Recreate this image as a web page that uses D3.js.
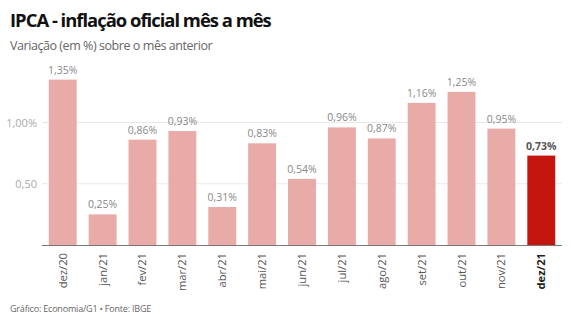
<!DOCTYPE html>
<html>
<head>
<meta charset="utf-8">
<script src="https://cdn.jsdelivr.net/npm/d3@7"></script>
<style>
  html, body { margin: 0; padding: 0; background: #fff; }
  svg { display: block; font-family: "Open Sans", "Noto Sans", sans-serif; }
</style>
</head>
<body>
<svg id="chart" width="571" height="326"></svg>
<script>
// Monthly IPCA variation (%), Dec/2020 to Dec/2021
const months = ["dez/20", "jan/21", "fev/21", "mar/21", "abr/21", "mai/21", "jun/21",
                "jul/21", "ago/21", "set/21", "out/21", "nov/21", "dez/21"];
const values = [1.35, 0.25, 0.86, 0.93, 0.31, 0.83, 0.54, 0.96, 0.87, 1.16, 1.25, 0.95, 0.73];
const yTicks = [0.5, 1.0];
const yTickLabels = ["0,50", "1,00%"];

const svg = d3.select("#chart");
const baseY = 245;
const left = 42, right = 562;

const x = d3.scaleBand().domain(months).range([left, right])
  .paddingInner(0.3).paddingOuter(0.17);
const y = d3.scaleLinear().domain([0, 1]).range([baseY, 122.5]);

const fmt = v => v.toFixed(2).replace(".", ",") + "%";
const lastIdx = months.length - 1;

// Scale a text's font size so it spans the given width
function fitWidth(sel, width) {
  const size = +sel.attr("font-size");
  const w = sel.node().getComputedTextLength();
  sel.attr("font-size", size * width / w);
  return sel;
}

// Title and subtitle
fitWidth(svg.append("text").attr("x", 10).attr("y", 27)
  .attr("font-size", 19).attr("font-weight", 700).attr("fill", "#111")
  .attr("letter-spacing", -1)
  .text("IPCA - inflação oficial mês a mês"), 262);
fitWidth(svg.append("text").attr("x", 10).attr("y", 50)
  .attr("font-size", 13).attr("fill", "#666")
  .attr("letter-spacing", -0.45)
  .text("Variação (em %) sobre o mês anterior"), 203);

// Gridlines and y labels
const yAxis = svg.append("g");
yAxis.selectAll("line").data(yTicks).join("line")
  .attr("x1", left).attr("x2", right)
  .attr("y1", d => y(d)).attr("y2", d => y(d))
  .attr("stroke", "#e8e8e8").attr("stroke-width", 1);
yAxis.selectAll("text").data(yTicks).join("text")
  .attr("x", 37).attr("y", d => y(d) + 4)
  .attr("text-anchor", "end").attr("font-size", 11).attr("fill", "#aaa")
  .text((d, i) => yTickLabels[i]);

// Bars
svg.append("g").selectAll("rect").data(values).join("rect")
  .attr("x", (d, i) => x(months[i]))
  .attr("width", x.bandwidth())
  .attr("y", d => y(d))
  .attr("height", d => baseY - y(d))
  .attr("fill", (d, i) => i === lastIdx ? "#c4160f" : "#e8aba8");

// Value labels
svg.append("g").selectAll("text").data(values).join("text")
  .attr("x", (d, i) => x(months[i]) + x.bandwidth() / 2)
  .attr("y", d => y(d) - 6)
  .attr("text-anchor", "middle")
  .attr("font-size", 10.5)
  .attr("font-weight", (d, i) => i === lastIdx ? 700 : 400)
  .attr("fill", (d, i) => i === lastIdx ? "#555" : "#888")
  .text(fmt);

// Baseline
svg.append("line").attr("x1", left).attr("x2", right)
  .attr("y1", baseY + 0.5).attr("y2", baseY + 0.5)
  .attr("stroke", "#777").attr("stroke-width", 1.2);

// Rotated month labels
svg.append("g").selectAll("text").data(months).join("text")
  .attr("transform", d => `translate(${x(d) + x.bandwidth() / 2 + 4},${baseY + 8}) rotate(-90)`)
  .attr("text-anchor", "end")
  .attr("font-size", 11.2)
  .attr("font-weight", (d, i) => i === lastIdx ? 700 : 400)
  .attr("fill", (d, i) => i === lastIdx ? "#222" : "#555")
  .text(d => d);

// Footer
fitWidth(svg.append("text").attr("x", 10).attr("y", 312)
  .attr("font-size", 10).attr("fill", "#666")
  .attr("letter-spacing", -0.2)
  .text("Gráfico: Economia/G1 • Fonte: IBGE"), 142);
</script>
</body>
</html>
